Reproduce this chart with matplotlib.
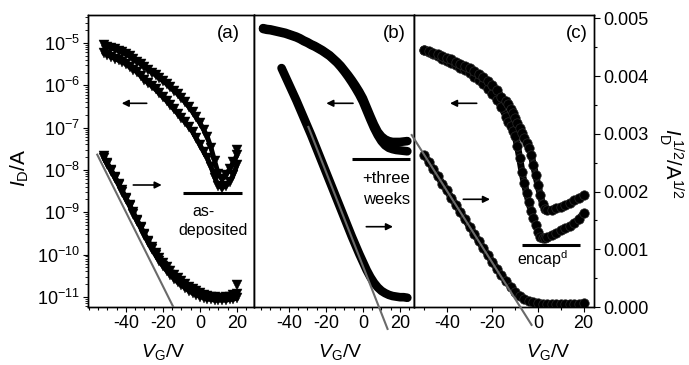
import matplotlib
matplotlib.use("Agg")
import matplotlib.pyplot as plt
import numpy as np
from matplotlib.ticker import (MultipleLocator, FormatStrFormatter, LogLocator,
                               LogFormatterMathtext, NullFormatter)
from matplotlib.patches import FancyArrowPatch
from matplotlib.lines import Line2D

plt.rcParams['font.family'] = ['Liberation Sans', 'DejaVu Sans']
plt.rcParams['mathtext.fontset'] = 'custom'
plt.rcParams['mathtext.rm'] = 'Liberation Sans'
plt.rcParams['mathtext.it'] = 'Liberation Sans:italic'
plt.rcParams['mathtext.bf'] = 'Liberation Sans:bold'
plt.rcParams['axes.unicode_minus'] = False

# ---------------- data ----------------
# panel (a): as-deposited
VA = [-52, -50, -48, -46, -44, -42, -40, -38, -36, -34, -32, -30, -28, -26, -24, -22,
      -20, -18, -16, -14, -12, -10, -8, -6, -4, -2, 0, 2, 4, 6, 8, 10, 12, 14, 16, 18, 20]
a_log_fwd = [-5.06, -5.09, -5.12, -5.15, -5.19, -5.22, -5.26, -5.32, -5.38, -5.44, -5.50,
             -5.57, -5.63, -5.70, -5.76, -5.83, -5.90, -5.97, -6.05, -6.13, -6.21, -6.30,
             -6.40, -6.51, -6.63, -6.76, -6.89, -7.05, -7.22, -7.48, -7.80, -8.10, -8.22,
             -8.12, -7.98, -7.82, -7.65]
a_log_rev = [-5.24, -5.28, -5.33, -5.37, -5.41, -5.45, -5.50, -5.57, -5.63, -5.69, -5.78,
             -5.87, -5.95, -6.02, -6.10, -6.19, -6.28, -6.37, -6.47, -6.57, -6.67, -6.77,
             -6.87, -6.98, -7.10, -7.25, -7.41, -7.57, -7.72, -7.93, -8.18, -8.38, -8.42,
             -8.38, -8.28, -8.12, -7.88]
a_sqrt_fwd = [2.61, 2.49, 2.38, 2.26, 2.14, 2.02, 1.89, 1.77, 1.64, 1.51, 1.39, 1.27, 1.15,
              1.04, 0.94, 0.85, 0.76, 0.69, 0.62, 0.56, 0.50, 0.45, 0.40, 0.35, 0.31, 0.27,
              0.24, 0.21, 0.19, 0.17, 0.17, 0.16, 0.16, 0.17, 0.18, 0.20, 0.22]
a_sqrt_rev = [2.59, 2.47, 2.36, 2.24, 2.12, 2.00, 1.87, 1.75, 1.62, 1.49, 1.37, 1.25, 1.12,
              1.00, 0.90, 0.80, 0.71, 0.63, 0.56, 0.49, 0.43, 0.38, 0.33, 0.28, 0.24, 0.21,
              0.18, 0.16, 0.14, 0.13, 0.12, 0.12, 0.12, 0.12, 0.13, 0.14, 0.15]
a_start_v = [20]
a_start_log = [-7.52]
a_start_sqrt = [0.38]
fit_a_v = [-55.5, -14.4]
fit_a_sqrt = [2.64, 0.0]

# panel (b): + three weeks
VB_log = [-54, -52, -50, -48, -46, -44, -42, -40, -38, -36, -34, -32, -30, -28, -26, -24,
          -22, -20, -18, -16, -14, -12, -10, -8, -6, -4, -2, 0, 2, 4, 6, 8, 10, 12, 14,
          16, 18, 20, 22, 24]
b_log_fwd = [-4.65, -4.67, -4.68, -4.70, -4.72, -4.74, -4.76, -4.79, -4.82, -4.85, -4.89,
             -4.94, -4.98, -5.03, -5.07, -5.12, -5.17, -5.23, -5.29, -5.37, -5.45, -5.54,
             -5.65, -5.76, -5.88, -6.01, -6.15, -6.31, -6.52, -6.73, -6.93, -7.10, -7.21,
             -7.28, -7.32, -7.34, -7.34, -7.34, -7.33, -7.32]
b_log_rev = [-4.67, -4.69, -4.70, -4.72, -4.74, -4.76, -4.78, -4.81, -4.84, -4.87, -4.91,
             -4.96, -5.00, -5.05, -5.09, -5.14, -5.19, -5.25, -5.31, -5.39, -5.47, -5.57,
             -5.68, -5.80, -5.93, -6.07, -6.22, -6.39, -6.60, -6.81, -7.01, -7.18, -7.32,
             -7.42, -7.48, -7.51, -7.53, -7.54, -7.55, -7.56]
VB_sqrt = [-44, -42, -40, -38, -36, -34, -32, -30, -28, -26, -24, -22, -20, -18, -16, -14,
           -12, -10, -8, -6, -4, -2, 0, 2, 4, 6, 8, 10, 12, 14, 16, 18, 20, 22, 24]
b_sqrt = [4.14, 4.00, 3.86, 3.72, 3.58, 3.43, 3.28, 3.13, 2.98, 2.82, 2.66, 2.50, 2.34, 2.18,
          2.02, 1.86, 1.70, 1.54, 1.38, 1.22, 1.07, 0.92, 0.78, 0.64, 0.52, 0.42, 0.34, 0.28,
          0.24, 0.21, 0.19, 0.18, 0.17, 0.17, 0.16]
fit_b_v = [-29.5, 13.3]
fit_b_sqrt = [3.12, -0.38]

# panel (c): encapsulated
VC_log = [-50, -48, -46, -44, -42, -40, -38, -36, -34, -32, -30, -28, -26, -24, -22, -20,
          -18, -16, -14, -13, -12, -11, -10, -9, -8, -7, -6, -5, -4, -3, -2, -1, 0, 1, 2,
          3, 4, 6, 8, 10, 12, 14, 16, 18, 20]
c_log_outer = [-5.17, -5.22, -5.27, -5.32, -5.37, -5.42, -5.47, -5.53, -5.59, -5.65, -5.72,
               -5.80, -5.88, -5.96, -6.08, -6.21, -6.35, -6.52, -6.74, -6.87, -6.97, -7.08,
               -7.21, -7.43, -7.73, -8.05, -8.32, -8.55, -8.77, -8.96, -9.14, -9.30, -9.46,
               -9.58, -9.62, -9.61, -9.59, -9.54, -9.49, -9.43, -9.38, -9.33, -9.25, -9.15,
               -9.03]
c_log_inner = [-5.17, -5.20, -5.24, -5.27, -5.31, -5.35, -5.39, -5.44, -5.49, -5.54, -5.60,
               -5.67, -5.74, -5.81, -5.90, -6.00, -6.12, -6.27, -6.38, -6.45, -6.55, -6.66,
               -6.78, -6.90, -7.01, -7.13, -7.24, -7.36, -7.48, -7.64, -7.88, -8.12, -8.36,
               -8.59, -8.80, -8.92, -8.94, -8.94, -8.91, -8.87, -8.83, -8.78, -8.72, -8.66,
               -8.60]
VC_sqrt = [-50, -48, -46, -44, -42, -40, -38, -36, -34, -32, -30, -28, -26, -24, -22, -20,
           -18, -16, -14, -12, -10, -8, -6, -4, -2, 0, 2, 4, 6, 8, 10, 12, 14, 16, 18, 20]
c_sqrt = [2.64, 2.52, 2.39, 2.27, 2.14, 2.02, 1.89, 1.77, 1.64, 1.52, 1.39, 1.27, 1.14, 1.02,
          0.90, 0.78, 0.66, 0.55, 0.45, 0.35, 0.26, 0.19, 0.14, 0.10, 0.08, 0.07, 0.06, 0.06,
          0.06, 0.06, 0.06, 0.06, 0.06, 0.06, 0.06, 0.07]
fit_c_v = [-55.4, -2.8]
fit_c_sqrt = [2.98, -0.31]

x_ticks = [-40, -20, 0, 20]
sqrt_ticks = [0.000, 0.001, 0.002, 0.003, 0.004, 0.005]
panel_tags = ['(a)', '(b)', '(c)']

# ---------------- figure ----------------
W, H = 689, 365
fig = plt.figure(figsize=(W / 100, H / 100), dpi=100)


def fx(x):
    return x / W


def fy(y):
    return 1 - y / H


def lg(v):
    return np.power(10.0, np.asarray(v))


def sq(v):
    return np.asarray(v) * 1e-3


LOG_LIM = (10 ** -11.24, 10 ** -4.34)
SQ_LIM = (0, 5.06e-3)
bottom = fy(307)
height = 292 / H

specs = [
    (88, 254, (-60.5, 29.2), 5),
    (254, 414, (-58.9, 27.6), 5),
    (414, 594, (-54.4, 24.6), 10),
]

axes = []
for i, (l, r, xl, mnr) in enumerate(specs):
    ax = fig.add_axes([fx(l), bottom, (r - l) / W, height])
    ax.set_yscale('log')
    ax.set_ylim(*LOG_LIM)
    ax.set_xlim(*xl)
    ax2 = ax.twinx()
    ax2.set_ylim(*SQ_LIM)
    ax.xaxis.set_major_locator(MultipleLocator(20))
    ax.xaxis.set_minor_locator(MultipleLocator(mnr))
    ax.set_xticks(x_ticks)
    ax.tick_params(axis='x', which='major', direction='out', length=3.5, width=0.8,
                   labelsize=13, pad=2.5, top=False)
    ax.tick_params(axis='x', which='minor', direction='out', length=2.2, width=0.8, top=False)
    for a in (ax, ax2):
        for s in a.spines.values():
            s.set_linewidth(1.0)
            s.set_color('black')
    if i == 0:
        ax.yaxis.set_major_locator(LogLocator(base=10, numticks=30))
        ax.yaxis.set_minor_locator(LogLocator(base=10, subs=np.arange(2, 10) * 1.0, numticks=60))
        ax.yaxis.set_major_formatter(LogFormatterMathtext())
        ax.yaxis.set_minor_formatter(NullFormatter())
        ax.tick_params(axis='y', which='major', direction='out', length=3.5, width=0.8,
                       labelsize=13, pad=2)
        ax.tick_params(axis='y', which='minor', direction='out', length=2, width=0.6)
    else:
        ax.tick_params(axis='y', which='both', left=False, labelleft=False)
    if i == 2:
        ax2.set_yticks(sqrt_ticks)
        ax2.yaxis.set_minor_locator(MultipleLocator(0.0005))
        ax2.yaxis.set_major_formatter(FormatStrFormatter('%.3f'))
        ax2.tick_params(axis='y', which='major', direction='out', length=4, width=0.8,
                        labelsize=13, pad=3)
        ax2.tick_params(axis='y', which='minor', direction='out', length=2.5, width=0.8)
    else:
        ax2.tick_params(axis='y', which='both', right=False, labelright=False)
    ax2.set_ylim(*SQ_LIM)
    axes.append((ax, ax2))

FIT_COLOR = '#6a6a6a'

# panel a
ax, ax2 = axes[0]
kw_a = dict(ls='-', lw=3.5, marker='v', ms=6.8, color='black', mec='black', mew=0.3,
            solid_capstyle='round')
ax.plot(VA, lg(a_log_fwd), **kw_a)
ax.plot(VA, lg(a_log_rev), **kw_a)
ax.plot(a_start_v, lg(a_start_log), **kw_a)
ax2.plot(VA, sq(a_sqrt_fwd), **kw_a)
ax2.plot(VA, sq(a_sqrt_rev), **kw_a)
ax2.plot(a_start_v, sq(a_start_sqrt), **kw_a)
ax2.plot(fit_a_v, sq(fit_a_sqrt), color=FIT_COLOR, lw=1.5, zorder=5)

# panel b
ax, ax2 = axes[1]
kw_b = dict(color='black', lw=6.2, solid_capstyle='round', solid_joinstyle='round')
ax.plot(VB_log, lg(b_log_fwd), **kw_b)
ax.plot(VB_log, lg(b_log_rev), **kw_b)
ax2.plot(VB_sqrt, sq(b_sqrt), **kw_b)
ax2.plot(fit_b_v, sq(fit_b_sqrt), color=FIT_COLOR, lw=1.5, zorder=5, clip_on=False)

# panel c
ax, ax2 = axes[2]
kw_c = dict(ls='-', lw=5.0, marker='o', ms=6.8, color='black', mec='#2a2a2a', mew=0.5,
            solid_capstyle='round', solid_joinstyle='round')
ax.plot(VC_log, lg(c_log_outer), **kw_c)
ax.plot(VC_log, lg(c_log_inner), **kw_c)
ax2.plot(VC_sqrt, sq(c_sqrt), **kw_c)
ax2.plot(fit_c_v, sq(fit_c_sqrt), color=FIT_COLOR, lw=1.5, zorder=5, clip_on=False)

# ---------------- annotations ----------------
for tag, x in zip(panel_tags, [228.3, 394.7, 576.7]):
    fig.text(fx(x), fy(33), tag, fontsize=13.5, ha='center', va='center')


def arrow(x0, y0, x1, y1):
    fig.add_artist(FancyArrowPatch(posA=(fx(x0), fy(y0)), posB=(fx(x1), fy(y1)),
                                   transform=fig.transFigure, arrowstyle='-|>',
                                   mutation_scale=10, lw=1.2, color='black',
                                   shrinkA=0, shrinkB=0))


def bar(x0, x1, y):
    fig.add_artist(Line2D([fx(x0), fx(x1)], [fy(y), fy(y)], transform=fig.transFigure,
                          color='black', lw=2.2, solid_capstyle='butt'))


arrow(146.7, 103.3, 121.7, 103.3)
arrow(133.3, 185, 161.7, 185)
arrow(353, 103.3, 326.3, 103.3)
arrow(366.3, 226.7, 393, 226.7)
arrow(476.7, 103.3, 450, 103.3)
arrow(463.3, 199.3, 490, 199.3)

bar(183.3, 242, 192.7)
bar(352.3, 409.7, 159)
bar(521.7, 580, 245.3)

fig.text(fx(203.3), fy(211.7), 'as-', fontsize=11.5, ha='center', va='center')
fig.text(fx(213.3), fy(230.7), 'deposited', fontsize=11.5, ha='center', va='center')
fig.text(fx(410), fy(178.3), '+three', fontsize=12, ha='right', va='center')
fig.text(fx(410), fy(199.3), 'weeks', fontsize=12, ha='right', va='center')
fig.text(fx(543), fy(259), r'encap$^{\mathregular{d}}$', fontsize=11.5, ha='center', va='center')

# axis labels
for x in [163, 340, 548]:
    fig.text(fx(x), fy(352), r'$V_\mathrm{G}$/V', fontsize=14, ha='center', va='center')
fig.text(fx(20), fy(168), r'$I_\mathrm{D}$/A', fontsize=15, rotation=90,
         ha='center', va='center')
fig.text(fx(671.7), fy(164), r'$I_\mathrm{D}^{\ 1/2}$/A$^{1/2}$', fontsize=14.5,
         rotation=270, ha='center', va='center')

fig.savefig('out.png', dpi=100)
